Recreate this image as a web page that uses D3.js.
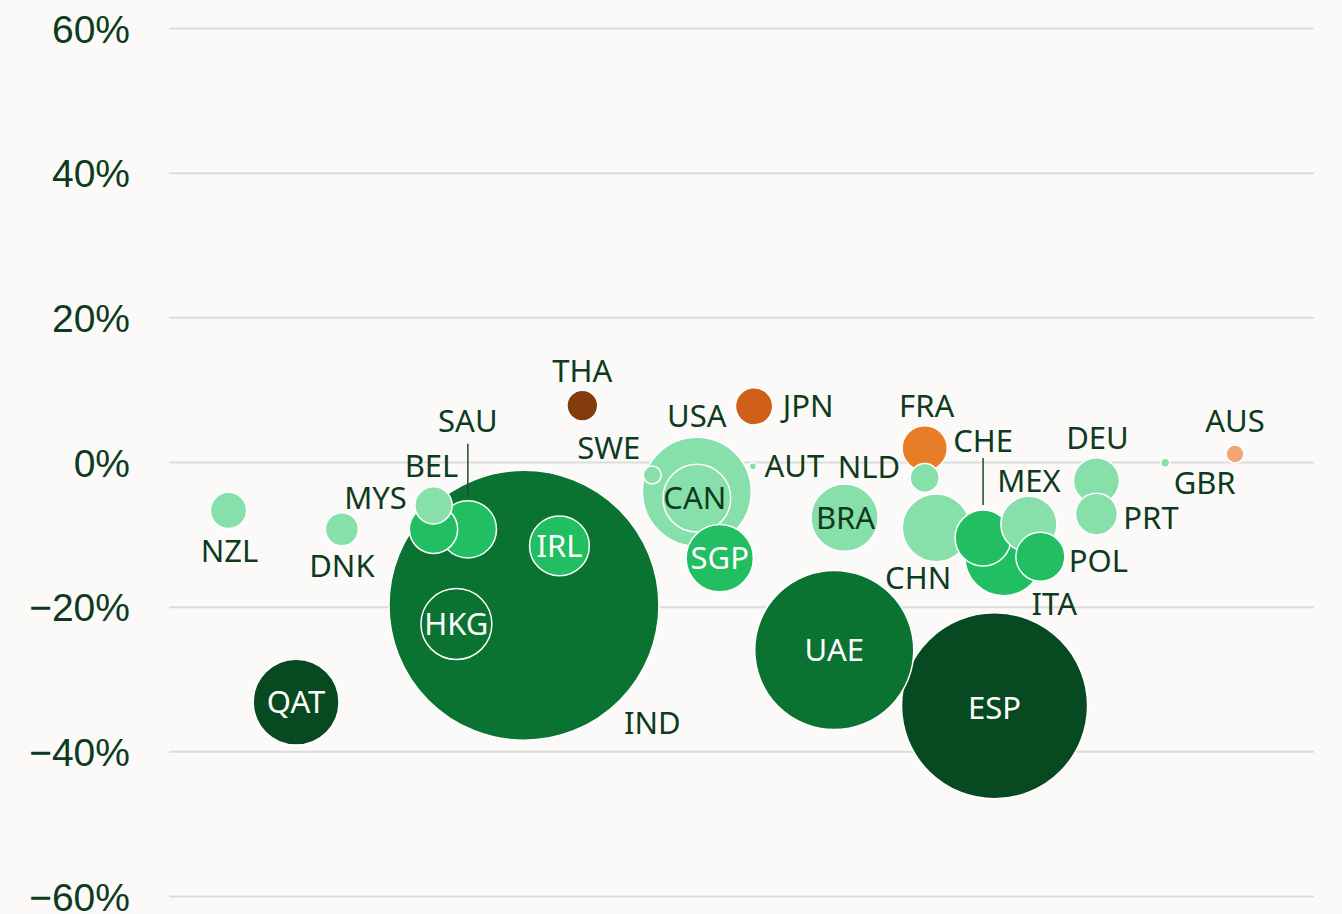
<!DOCTYPE html>
<html>
<head>
<meta charset="utf-8">
<script src="https://cdn.jsdelivr.net/npm/d3@7"></script>
<style>
	body { margin: 0; background: #fbfaf8; }
	svg { display: block; }
</style>
</head>
<body>
<svg id="chart"></svg>
<script>
// countries, position on the (unlabelled) horizontal measure, change in %, bubble size
const countries = ["IND", "ESP", "UAE", "USA", "QAT", "ITA", "HKG", "CAN", "CHN", "BRA", "SGP", "IRL", "SAU", "CHE", "MEX", "POL", "BEL", "DEU", "FRA", "PRT", "MYS", "JPN", "NZL", "DNK", "THA", "NLD", "SWE", "AUS", "GBR", "AUT"];
const xValues   = [31, 72.1, 58.1, 46.1, 11.1, 72.9, 25.1, 46.1, 67, 59, 48.1, 34.1, 26.1, 71.1, 75.1, 76.1, 23.1, 81, 66, 81, 23.1, 51.1, 5.2, 15.1, 36.1, 66, 42.2, 93.1, 87, 51];
const changes   = [-19.8, -33.7, -26, -4.1, -33.2, -13.1, -22.4, -5, -9.1, -7.7, -13.3, -11.6, -9.3, -10.5, -8.6, -13.1, -9.3, -2.6, 1.9, -7.2, -6, 7.7, -6.7, -9.3, 7.8, -2.2, -1.8, 1.1, -0.1, -0.6];
const sizes     = [100, 47.5, 34.7, 16.3, 10.1, 8.3, 6.9, 6.3, 6.3, 6.2, 6.2, 4.9, 4.5, 4.3, 4.3, 3.3, 3.2, 2.9, 2.8, 2.4, 1.9, 1.9, 1.8, 1.5, 1.3, 1.15, 0.44, 0.44, 0.11, 0.07];
const groups    = ["dark", "darkest", "dark", "light", "darkest", "mid", "dark", "light", "light", "light", "mid", "mid", "mid", "mid", "light", "mid", "mid", "light", "fra", "light", "light", "jpn", "light", "light", "tha", "light", "light", "aus", "light", "light"];
const yTicks = [-60, -40, -20, 0, 20, 40, 60];

const colorMap = {
	light: "#87dfaa",
	mid: "#22bf62",
	dark: "#0b7331",
	darkest: "#074a22",
	tha: "#843b0c",
	jpn: "#cf5f19",
	fra: "#e87d27",
	aus: "#f2a674",
};
const textColor = "#0e3a1e";

// where each label goes: [placement, dx, dy]
const labelLayout = {
	IND: ["right", -43, 118], ESP: ["inside", 0, 2], UAE: ["inside", 0, 0], USA: ["above", 0, -1],
	QAT: ["inside", 0, 0], ITA: ["right", -19, 47], HKG: ["inside", 0, 0], CAN: ["inside", -2, 0],
	CHN: ["below", -18, -5], BRA: ["inside", 1, 0], SGP: ["inside", 0, 0], IRL: ["inside", 0, 0],
	SAU: ["leader", 52, 23], CHE: ["leader", 47, 17], MEX: ["above", 0, 5], POL: ["right", -4, 4],
	BEL: ["above", -2, -19], DEU: ["above", 1, 0], FRA: ["above", 2, 0], PRT: ["right", -2, 4],
	MYS: ["left", 0, -8], JPN: ["right", 2, 0], NZL: ["below", 1, 1], DNK: ["below", 0, -1],
	THA: ["above", 0, 1], NLD: ["left", -2, -11], SWE: ["left", 5, -27], AUS: ["above", 0, -4],
	GBR: ["right", -4, 20], AUT: ["right", 0, -1],
};

const width = 1342, height = 914;
const svg = d3.select("#chart").attr("width", width).attr("height", height);

const x = d3.scaleLinear().domain([0, 100]).range([169, 1314]);
const y = d3.scaleLinear().domain([-60, 60]).range([896, 28]);
const r = d3.scaleSqrt().domain([0, 100]).range([0, 135]);

// y axis + gridlines
const axis = svg.append("g")
	.attr("transform", `translate(${x(0)},0)`)
	.call(
		d3.axisLeft(y)
			.tickValues(yTicks)
			.tickSize(-(x(100) - x(0)))
			.tickPadding(39)
			.tickFormat((d) => (d < 0 ? "\u2212" : "") + Math.abs(d) + "%")
	);
axis.select(".domain").remove();
axis.selectAll(".tick line").attr("stroke", "#dcdcdc").attr("stroke-width", 2);
axis.selectAll(".tick text")
	.attr("fill", textColor)
	.attr("font-family", "'Liberation Sans', Arial, sans-serif")
	.attr("font-size", 39)
	.attr("dy", "0.36em");

const data = countries.map((c, i) => ({
	name: c,
	x: xValues[i],
	y: changes[i],
	size: sizes[i],
	group: groups[i],
}));
// big ones first so the small ones sit on top
data.sort((a, b) => b.size - a.size);

svg.append("g")
	.selectAll("circle")
	.data(data)
	.join("circle")
	.attr("cx", (d) => x(d.x))
	.attr("cy", (d) => y(d.y))
	.attr("r", (d) => r(d.size))
	.attr("fill", (d) => colorMap[d.group])
	.attr("stroke", "#ffffff")
	.attr("stroke-width", 1.5);

// labels
const labels = svg.append("g")
	.attr("font-family", "'Noto Sans', 'Open Sans', sans-serif")
	.attr("font-size", 31);

data.forEach((d) => {
	const [place, dx, dy] = labelLayout[d.name];
	const cx = x(d.x), cy = y(d.y), rad = r(d.size);
	let tx = cx, ty = cy, anchor = "middle";
	let fill = textColor;

	if (place === "inside") {
		if (d.group !== "light") fill = "#ffffff";
		tx += dx;
		ty += dy;
	} else if (place === "above") {
		tx += dx;
		ty = cy - rad - 20 + dy;
	} else if (place === "below") {
		tx += dx;
		ty = cy + rad + 21 + dy;
	} else if (place === "left") {
		anchor = "end";
		tx = cx - rad - 8 + dx;
		ty += dy;
	} else if (place === "right") {
		anchor = "start";
		tx = cx + rad + 8 + dx;
		ty += dy;
	} else if (place === "leader") {
		// dx = line length, dy = gap between line and label
		const y1 = cy - rad - 5;
		const y2 = y1 - dx;
		labels.append("line")
			.attr("x1", cx).attr("x2", cx)
			.attr("y1", y1).attr("y2", y2)
			.attr("stroke", "#1f4a2e")
			.attr("stroke-width", 1.5);
		ty = y2 - dy;
	}

	labels.append("text")
		.attr("x", tx)
		.attr("y", ty)
		.attr("dy", "0.36em")
		.attr("text-anchor", anchor)
		.attr("fill", fill)
		.text(d.name);
});
</script>
</body>
</html>
